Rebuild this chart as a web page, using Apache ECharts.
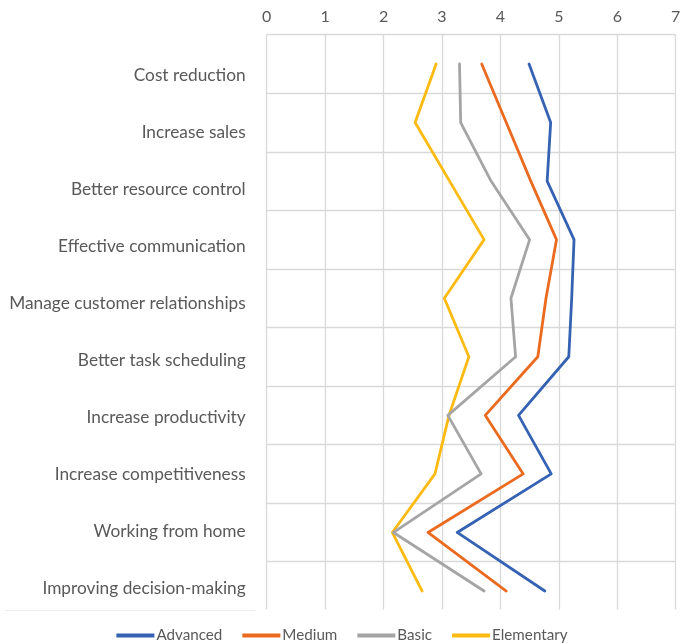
<!DOCTYPE html>
<html>
<head>
<meta charset="utf-8">
<title>Benefits by level</title>
<script src="https://cdn.jsdelivr.net/npm/echarts@6/dist/echarts.min.js"></script>
<style>
  html, body { margin: 0; padding: 0; background: #ffffff; }
  #chart { width: 684px; height: 643px; }
</style>
</head>
<body>
<div id="chart"></div>
<script>
// Benefit categories, listed top to bottom
var categories = [
  'Cost reduction',
  'Increase sales',
  'Better resource control',
  'Effective communication',
  'Manage customer relationships',
  'Better task scheduling',
  'Increase productivity',
  'Increase competitiveness',
  'Working from home',
  'Improving decision-making'
];

// Mean scores per digital-maturity level
var advanced   = [4.49, 4.86, 4.80, 5.26, 5.22, 5.17, 4.31, 4.87, 3.26, 4.76];
var medium     = [3.68, 4.10, 4.52, 4.96, 4.78, 4.64, 3.74, 4.39, 2.76, 4.10];
var basic      = [3.30, 3.32, 3.84, 4.50, 4.18, 4.26, 3.10, 3.67, 2.17, 3.72];
var elementary = [2.90, 2.54, 3.13, 3.72, 3.04, 3.46, 3.12, 2.88, 2.15, 2.66];

var seriesNames = ['Advanced', 'Medium', 'Basic', 'Elementary'];
var seriesData = [advanced, medium, basic, elementary];
var colors = ['#3562B3', '#EA6A1F', '#A5A5A5', '#FDBA12'];

// Value axis ticks
var xMin = 0, xMax = 7, xStep = 1;

var FONT = 'Lato, "Open Sans", sans-serif';
var TEXT = '#595959';
var GRIDLINE = '#d9d9d9';

var chart = echarts.init(document.getElementById('chart'), null, { renderer: 'canvas' });

var series = seriesNames.map(function (name, i) {
  return {
    name: name,
    type: 'line',
    xAxisIndex: 0,
    yAxisIndex: 0,
    data: seriesData[i],
    symbol: 'none',
    smooth: false,
    lineStyle: { color: colors[i], width: 2.8, cap: 'round', join: 'round' },
    itemStyle: { color: colors[i] },
    z: 10 - i
  };
});

chart.setOption({
  animation: false,
  backgroundColor: '#ffffff',
  color: colors,
  textStyle: { fontFamily: FONT },
  grid: [
    // plotting area
    { left: 266.7, right: 8.3, top: 34.7, height: 585.6, containLabel: false },
    // category label column
    { left: 266.7, right: 8.3, top: 46.5, height: 570, containLabel: false }
  ],
  xAxis: [
    {
      gridIndex: 0,
      type: 'value',
      position: 'top',
      min: xMin,
      max: xMax,
      interval: xStep,
      axisLine: { show: false },
      axisTick: { show: false },
      axisLabel: { color: TEXT, fontSize: 16, fontFamily: FONT, margin: 10 },
      splitLine: { show: true, lineStyle: { color: GRIDLINE, width: 1.3 } }
    },
    { gridIndex: 1, type: 'value', show: false, min: 0, max: 1 }
  ],
  yAxis: [
    {
      gridIndex: 0,
      type: 'category',
      inverse: true,
      data: categories,
      boundaryGap: true,
      axisLine: { show: false },
      axisTick: { show: false },
      axisLabel: { show: false },
      splitLine: { show: true, lineStyle: { color: GRIDLINE, width: 1.3 } }
    },
    {
      gridIndex: 1,
      type: 'category',
      inverse: true,
      data: categories,
      axisLine: { show: false },
      axisTick: { show: false },
      splitLine: { show: false },
      axisLabel: { color: TEXT, fontSize: 17.3, fontFamily: FONT, margin: 21 }
    }
  ],
  legend: {
    data: seriesNames,
    top: 623,
    left: 'center',
    icon: 'rect',
    itemWidth: 38,
    itemHeight: 4,
    itemGap: 20,
    textStyle: { color: TEXT, fontSize: 15.2, fontFamily: FONT, padding: [0, 0, 0, -3] }
  },
  graphic: [
    // trims the plot area so the last band stays open at the bottom
    {
      type: 'rect',
      z: 100,
      shape: { x: 255, y: 609.5, width: 429, height: 13 },
      style: { fill: '#ffffff' }
    },
    {
      type: 'line',
      z: 100,
      shape: { x1: 5, y1: 610.5, x2: 255, y2: 610.5 },
      style: { stroke: '#ececec', lineWidth: 1 }
    }
  ],
  series: series
});
</script>
</body>
</html>
